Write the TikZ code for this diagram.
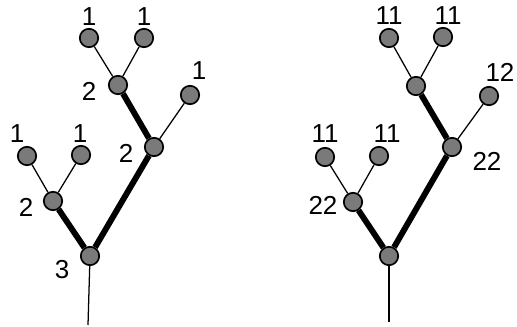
\documentclass[tikz,border=0pt]{standalone}
\usepackage{fontspec}
\setmainfont{Liberation Sans}
\usetikzlibrary{positioning}
\begin{document}
\begin{tikzpicture}[x=0.25cm, y=-0.25cm,
	dot/.style={circle, draw=black, line width=1.2pt, fill=black!52, minimum size=4.6mm, inner sep=0},
	num/.style={inner sep=0, font=\fontsize{18.5}{22}\selectfont},
	twig/.style={line width=0.9pt},
	branch/.style={line width=4.2pt}]
	\useasboundingbox (0,0) rectangle (51.7,32.7);
	% left tree
	\coordinate (lfoot) at (8.8,32.5);
	\node[dot] (lr) at (9,25.6) {};
	\node[dot] (la) at (5.3,20.1) {};
	\node[dot] (laa) at (2.7,15.6) {};
	\node[dot] (lab) at (8.1,15.5) {};
	\node[dot] (lb) at (15.4,14.7) {};
	\node[dot] (lc) at (11.8,8.5) {};
	\node[dot] (ld) at (19,9.5) {};
	\node[dot] (lca) at (8.9,3.8) {};
	\node[dot] (lcb) at (14.4,3.8) {};
	\draw[twig] (lr) -- (lfoot);
	\draw[branch] (lr) -- (la); \draw[branch] (lr) -- (lb); \draw[branch] (lb) -- (lc);
	\draw[twig] (la) -- (laa); \draw[twig] (la) -- (lab);
	\draw[twig] (lb) -- (ld);
	\draw[twig] (lc) -- (lca); \draw[twig] (lc) -- (lcb);
	\node[num] (tlr) at (6.2,27) {3};
	\node[num] (tla) at (2.6,20.7) {2};
	\node[num] (tlaa) at (1.7,13.4) {1};
	\node[num] (tlab) at (8,13.4) {1};
	\node[num] (tlb) at (12.6,15.3) {2};
	\node[num] (tlc) at (8.9,9.1) {2};
	\node[num] (tld) at (19.9,7.1) {1};
	\node[num] (tlca) at (8.9,1.7) {1};
	\node[num] (tlcb) at (14.4,1.7) {1};
	% right tree
	\coordinate (rfoot) at (38.9,32.2);
	\node[dot] (rr) at (38.9,25.6) {};
	\node[dot] (ra) at (35.3,20.2) {};
	\node[dot] (raa) at (32.5,15.7) {};
	\node[dot] (rab) at (37.9,15.6) {};
	\node[dot] (rb) at (45.2,14.7) {};
	\node[dot] (rc) at (41.6,8.6) {};
	\node[dot] (rd) at (48.9,9.6) {};
	\node[dot] (rca) at (38.9,3.8) {};
	\node[dot] (rcb) at (44.3,3.7) {};
	\draw[twig] (rr) -- (rfoot);
	\draw[branch] (rr) -- (ra); \draw[branch] (rr) -- (rb); \draw[branch] (rb) -- (rc);
	\draw[twig] (ra) -- (raa); \draw[twig] (ra) -- (rab);
	\draw[twig] (rb) -- (rd);
	\draw[twig] (rc) -- (rca); \draw[twig] (rc) -- (rcb);
	\node[num] (tra) at (32.3,20.5) {22};
	\node[num] (traa) at (32.5,13.4) {11};
	\node[num] (trab) at (38.7,13.4) {11};
	\node[num] (trb) at (48.7,16.1) {22};
	\node[num] (trd) at (50,7.2) {12};
	\node[num] (trca) at (38.9,1.6) {11};
	\node[num] (trcb) at (44.8,1.6) {11};
\end{tikzpicture}
\end{document}
